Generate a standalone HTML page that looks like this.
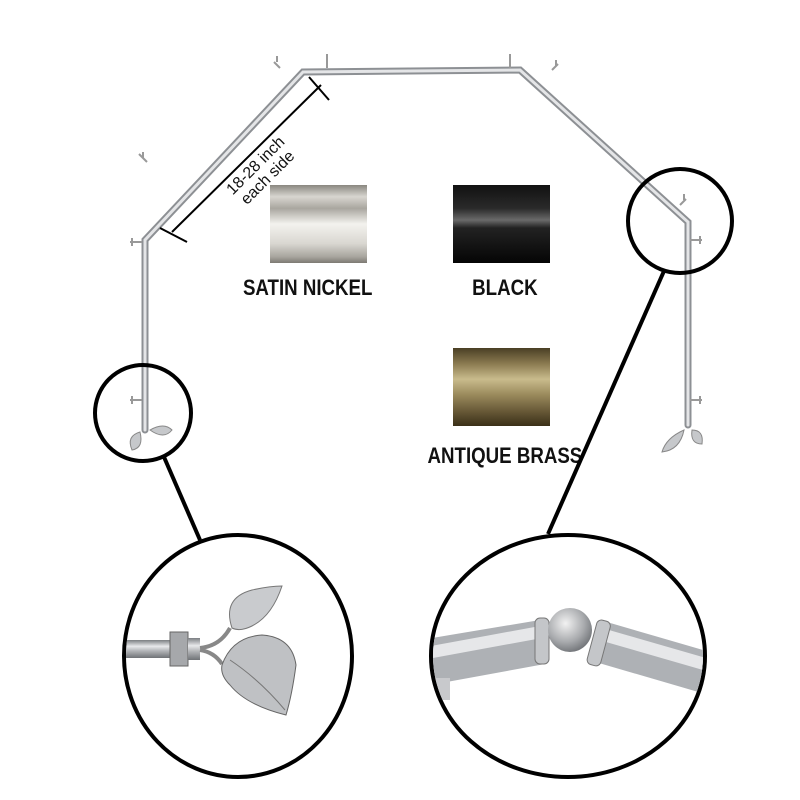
<!DOCTYPE html>
<html><head><style>
html,body{margin:0;padding:0;background:#fff;}
svg{display:block;}
text{font-family:"Liberation Sans",sans-serif;}
</style></head><body>
<svg width="800" height="800" viewBox="0 0 800 800" xmlns="http://www.w3.org/2000/svg">
<defs>
<linearGradient id="sn" x1="0" y1="0" x2="0" y2="1">
<stop offset="0" stop-color="#8a8780"/><stop offset="0.15" stop-color="#d8d6d0"/><stop offset="0.3" stop-color="#a9a69f"/><stop offset="0.5" stop-color="#f3f2ee"/><stop offset="0.75" stop-color="#d9d7d1"/><stop offset="0.92" stop-color="#a8a59e"/><stop offset="1" stop-color="#7d7a73"/></linearGradient>
<linearGradient id="bk" x1="0" y1="0" x2="0" y2="1">
<stop offset="0" stop-color="#111"/><stop offset="0.3" stop-color="#2a2a2a"/><stop offset="0.45" stop-color="#6a6a6a"/><stop offset="0.55" stop-color="#222"/><stop offset="1" stop-color="#050505"/></linearGradient>
<linearGradient id="br" x1="0" y1="0" x2="0" y2="1">
<stop offset="0" stop-color="#4a3f25"/><stop offset="0.2" stop-color="#8a7a50"/><stop offset="0.4" stop-color="#c9bb8c"/><stop offset="0.6" stop-color="#9a8a5c"/><stop offset="0.85" stop-color="#5e5030"/><stop offset="1" stop-color="#3a3018"/></linearGradient>
<linearGradient id="rod" x1="0" y1="0" x2="0" y2="1">
<stop offset="0" stop-color="#7b7e82"/><stop offset="0.35" stop-color="#e8e9eb"/><stop offset="0.6" stop-color="#b3b5b8"/><stop offset="1" stop-color="#6f7276"/></linearGradient>
<radialGradient id="ball" cx="0.4" cy="0.35" r="0.7"><stop offset="0" stop-color="#f2f2f2"/><stop offset="0.6" stop-color="#a9abae"/><stop offset="1" stop-color="#6d7074"/></radialGradient>
</defs>

<g stroke-linecap="round" fill="none">
<polyline points="145,430 145,240 303,72 520,70 688,222 688,425" stroke="#8d9094" stroke-width="7"/>
<polyline points="145,430 145,240 303,72 520,70 688,222 688,425" stroke="#e4e5e7" stroke-width="3"/>
</g>
<g stroke="#999" stroke-width="2" fill="none">
<path d="M130,242 h12 M132,238 v8"/><path d="M147,162 l-8,-8 M143,158 v-6"/>
<path d="M280,68 l-6,-6 M277,62 v-6"/><path d="M327,68 v-14"/><path d="M510,68 v-14"/>
<path d="M552,70 l6,-6 M556,66 v-6"/><path d="M680,205 l6,-6 M684,200 v-6"/><path d="M690,240 h12 M700,236 v8"/>
<path d="M130,400 h12 M132,396 v8"/><path d="M690,400 h12 M700,396 v8"/>
</g>
<path d="M140,432 q-14,4 -8,18 q12,-2 8,-18z M150,430 q14,-8 22,0 q-8,10 -22,0z" fill="#c6c8cb" stroke="#888" stroke-width="1"/>
<path d="M684,430 q-18,8 -22,22 q18,-2 22,-22z M692,430 q12,0 10,14 q-12,0 -10,-14z" fill="#c6c8cb" stroke="#888" stroke-width="1"/>

<g stroke="#000" stroke-width="2">
<line x1="172" y1="232" x2="321" y2="85"/>
<line x1="160" y1="228" x2="187" y2="242"/>
<line x1="309" y1="77" x2="329" y2="100"/>
</g>
<g transform="translate(262,172) rotate(-45)">
<text x="0" y="-4" font-size="16" text-anchor="middle" fill="#111">18-28 inch</text>
<text x="0" y="13" font-size="16" text-anchor="middle" fill="#111">each side</text>
</g>

<rect x="270" y="185" width="97" height="78" fill="url(#sn)"/>
<rect x="453" y="185" width="97" height="78" fill="url(#bk)"/>
<rect x="453" y="348" width="97" height="78" fill="url(#br)"/>
<g font-weight="bold" font-size="22" fill="#111" text-anchor="middle" transform="scale(0.85,1)">
<text x="362" y="295">SATIN NICKEL</text>
<text x="594" y="295">BLACK</text>
<text x="594" y="463">ANTIQUE BRASS</text>
</g>

<g fill="none" stroke="#000" stroke-width="4">
<circle cx="143" cy="413" r="48"/>
<circle cx="680" cy="221" r="52"/>
<line x1="164" y1="457" x2="200" y2="540"/>
<line x1="664" y1="271" x2="548" y2="534"/>
<ellipse cx="238" cy="656" rx="114" ry="121"/>
<ellipse cx="568" cy="656" rx="137" ry="121"/>
</g>

<clipPath id="cl"><ellipse cx="238" cy="656" rx="112" ry="119"/></clipPath>
<g clip-path="url(#cl)">
<rect x="120" y="640" width="80" height="18" fill="url(#rod)"/>
<rect x="170" y="632" width="18" height="34" fill="#a6a8ab" stroke="#666"/>
<rect x="188" y="638" width="12" height="22" fill="url(#rod)"/>
<path d="M200,648 q20,-2 30,-20 M200,650 q14,2 22,14" stroke="#888" stroke-width="4" fill="none"/>
<path d="M232,628 q-10,-30 20,-38 q18,-4 30,-4 q-10,30 -30,40 q-12,6 -20,2z" fill="#c9cbce" stroke="#777"/>
<path d="M222,665 q10,-28 40,-30 q30,2 34,30 q-4,30 -10,50 q-40,-10 -56,-30 q-10,-10 -8,-20z" fill="#bfc1c4" stroke="#666"/>
<path d="M230,660 q30,20 55,50" stroke="#777" fill="none"/>
</g>

<clipPath id="cr"><ellipse cx="568" cy="656" rx="135" ry="119"/></clipPath>
<g clip-path="url(#cr)">
<polygon points="420,640 540,620 545,664 425,686" fill="#aeb1b5"/>
<polygon points="420,648 540,626 542,638 422,660" fill="#e6e7e9"/>
<polygon points="600,620 720,655 712,696 592,661" fill="#aeb1b5"/>
<polygon points="602,628 720,662 717,674 599,640" fill="#e6e7e9"/>
<rect x="535" y="618" width="14" height="46" rx="5" fill="#c4c6c9" stroke="#777"/>
<rect x="592" y="620" width="14" height="46" rx="5" fill="#c4c6c9" stroke="#777" transform="rotate(15 599 642)"/>
<circle cx="570" cy="630" r="22" fill="url(#ball)"/>
<rect x="430" y="678" width="20" height="22" fill="#c8c9cc"/>
</g>
</svg>
</body></html>
